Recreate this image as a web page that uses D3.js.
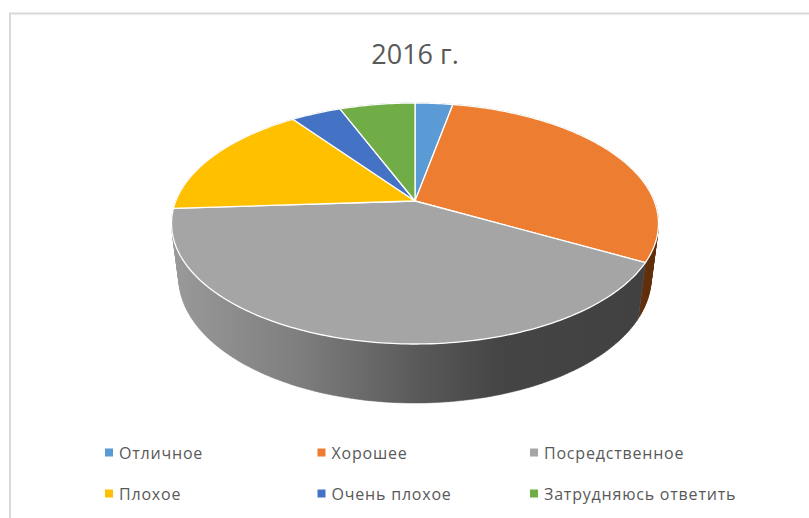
<!DOCTYPE html>
<html><head><meta charset="utf-8">
<script src="https://cdn.jsdelivr.net/npm/d3@7/dist/d3.min.js"></script>
<style>html,body{margin:0;padding:0;background:#fff}svg{display:block}
text{font-family:"Open Sans","Liberation Sans",sans-serif;fill:#595959}</style>
</head><body><svg id="c" width="809" height="518"></svg>
<script>
const title = "2016 г.";
const categories = ["Отличное","Хорошее","Посредственное","Плохое","Очень плохое","Затрудняюсь ответить"];
const values = [3,30,41,16,4,6];
const colors = ["#5B9BD5","#ED7D31","#A5A5A5","#FFC000","#4472C4","#70AD47"];
const wallColors = ["#2f5d85","#63310F","url(#wall)","#8a6a00","#2a4577","#436a2a"];

const svg = d3.select("#c");
const defs = svg.append("defs");
const grad = defs.append("linearGradient").attr("id","wall").attr("gradientUnits","userSpaceOnUse")
  .attr("x1",171).attr("x2",645).attr("y1",0).attr("y2",0);
[[0,"#9a9a9a"],[.27,"#7e7e7e"],[.525,"#595959"],[.69,"#454545"],[1,"#414141"]]
  .forEach(([o,c])=>grad.append("stop").attr("offset",o).attr("stop-color",c));

// frame
svg.append("path").attr("d","M10,518V13.5H809").attr("fill","none").attr("stroke","#d9d9d9").attr("stroke-width",2);

const cx=415, k=.1867, B=116.3, A=239.2;
function proj(a, y0, sx, sy){
  const u=Math.sin(a), v=-Math.cos(a), w=1-k*v;
  return [cx+sx*A*u/w, y0+sy*B*v/w];
}
const pie=d3.pie().sort(null).value(d=>d)(values);
const topY=201, botY=254.3, botSx=.97, botSy=1.04;
const line=d3.line();
function samples(d){const n=Math.max(8,Math.ceil((d.endAngle-d.startAngle)*60));
  return d3.range(n+1).map(i=>d.startAngle+(d.endAngle-d.startAngle)*i/n);}

// walls, back to front: rim-step quads merged in one path so the silhouette stays filled without seams
const wallOrder=[4,5,0,3,1,2];
svg.append("g").selectAll("path").data(wallOrder).join("path")
  .attr("d",i=>d3.pairs(samples(pie[i])).map(([t0,t1])=>{
    const q=[proj(t0,topY,1,1),proj(t1,topY,1,1),proj(t1,botY,botSx,botSy),proj(t0,botY,botSx,botSy)];
    // keep every quad in the same winding so overlaps never cancel
    return line(d3.polygonArea(q)<0?q.reverse():q)+"Z";
  }).join(""))
  .attr("fill",i=>wallColors[i]).attr("stroke",i=>wallColors[i]).attr("stroke-width",.5);

// top slices
svg.append("g").selectAll("path").data(pie).join("path")
  .attr("d",d=>line([[cx,topY],...samples(d).map(t=>proj(t,topY,1,1))])+"Z")
  .attr("fill",(d,i)=>colors[i]).attr("stroke","#fff").attr("stroke-width",1.3).attr("stroke-linejoin","round");

svg.append("text").attr("x",415).attr("y",64).attr("text-anchor","middle").attr("font-size",27).text(title);

// legend
const lx=d3.scalePoint().domain([0,1,2]).range([105,530]);
const ly=d3.scalePoint().domain([0,1]).range([452.5,493.5]);
const lg=svg.append("g").selectAll("g").data(categories).join("g")
  .attr("transform",(d,i)=>`translate(${lx(i%3)},${ly(Math.floor(i/3))})`);
lg.append("rect").attr("y",-4).attr("width",8).attr("height",8).attr("fill",(d,i)=>colors[i]);
lg.append("text").attr("x",14).attr("y",6).attr("font-size",16).attr("letter-spacing",.8).text(d=>d);
</script></body></html>
